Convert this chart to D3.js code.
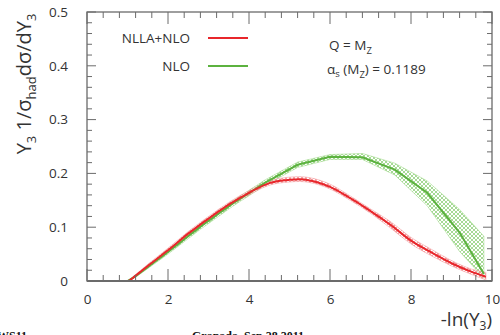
<!DOCTYPE html>
<html>
<head>
<meta charset="utf-8">
<script src="https://cdn.jsdelivr.net/npm/d3@7"></script>
<style>
  html, body { margin: 0; padding: 0; background: #fff; overflow: hidden; }
  svg { display: block; }
</style>
</head>
<body>
<svg id="chart" width="500" height="335"></svg>
<script>
// NLLA+NLO prediction (smooth curve) with its uncertainty band
const nllaX    = [0, 1.0, 1.2, 1.5, 2.0, 2.5, 3.0, 3.5, 4.0, 4.5, 5.0, 5.25, 5.5, 6.0, 6.5, 7.0, 7.5, 8.0, 8.5, 9.0, 9.5, 9.85];
const nllaY    = [0, 0, 0.010, 0.028, 0.057, 0.088, 0.116, 0.142, 0.164, 0.182, 0.188, 0.189, 0.187, 0.175, 0.154, 0.130, 0.104, 0.075, 0.053, 0.033, 0.017, 0.008];
const nllaLow  = [0, 0, 0.008, 0.025, 0.053, 0.084, 0.112, 0.138, 0.160, 0.178, 0.184, 0.185, 0.183, 0.171, 0.150, 0.126, 0.098, 0.069, 0.047, 0.028, 0.012, 0.002];
const nllaHigh = [0, 0, 0.012, 0.031, 0.061, 0.092, 0.120, 0.146, 0.168, 0.186, 0.193, 0.194, 0.192, 0.180, 0.158, 0.134, 0.110, 0.081, 0.059, 0.038, 0.022, 0.016];

// NLO prediction (bin-by-bin, linear segments) with its uncertainty band
const nloX    = [0, 1.0, 1.2, 2.0, 2.8, 3.6, 4.4, 5.2, 6.0, 6.8, 7.6, 8.4, 9.2, 9.8];
const nloY    = [0, 0, 0.009, 0.054, 0.101, 0.144, 0.183, 0.216, 0.231, 0.230, 0.207, 0.164, 0.090, 0.013];
const nloLow  = [0, 0, 0.007, 0.050, 0.096, 0.139, 0.178, 0.211, 0.226, 0.226, 0.197, 0.140, 0.055, 0.005];
const nloHigh = [0, 0, 0.011, 0.058, 0.106, 0.149, 0.188, 0.221, 0.235, 0.237, 0.219, 0.186, 0.133, 0.083];

const xTicks = [0, 2, 4, 6, 8, 10];
const yTicks = [0, 0.1, 0.2, 0.3, 0.4, 0.5];
const yTickLabels = ["0", "0.1", "0.2", "0.3", "0.4", "0.5"];
const legendLabels = ["NLLA+NLO", "NLO"];

const RED = "#e8262b", GREEN = "#5cb23f";
const FONT = "'Open Sans', 'Noto Sans', sans-serif";
const AXIS = "#6b6b6b";

const svg = d3.select("#chart");
const L = 87, R = 492, T = 12, B = 281;
const x = d3.scaleLinear().domain([0, 10]).range([L, R]);
const y = d3.scaleLinear().domain([0, 0.5]).range([B, T]);

// cross-hatch fills for the bands
const defs = svg.append("defs");
function hatch(id, color) {
  const p = defs.append("pattern").attr("id", id).attr("patternUnits", "userSpaceOnUse")
    .attr("width", 4).attr("height", 4);
  p.append("path").attr("d", "M-1,1 L1,-1 M0,4 L4,0 M3,5 L5,3").attr("stroke", color).attr("stroke-width", 0.8);
  p.append("path").attr("d", "M-1,3 L1,5 M0,0 L4,4 M3,-1 L5,1").attr("stroke", color).attr("stroke-width", 0.8);
}
hatch("hatchGreen", "#8fd07a");
hatch("hatchRed", "#f08a8c");

const nlo = nloX.map((v, i) => ({x: v, y: nloY[i], lo: nloLow[i], hi: nloHigh[i]}));
const nlla = nllaX.map((v, i) => ({x: v, y: nllaY[i], lo: nllaLow[i], hi: nllaHigh[i]}));

// bands
svg.append("path").datum(nlo)
  .attr("d", d3.area().x(d => x(d.x)).y0(d => y(d.lo)).y1(d => y(d.hi)))
  .attr("fill", "url(#hatchGreen)").attr("stroke", "#a8dc94").attr("stroke-width", 0.6);
svg.append("path").datum(nlla)
  .attr("d", d3.area().curve(d3.curveMonotoneX).x(d => x(d.x)).y0(d => y(d.lo)).y1(d => y(d.hi)))
  .attr("fill", "url(#hatchRed)").attr("stroke", "#f3a0a2").attr("stroke-width", 0.6);

// central lines
svg.append("path").datum(nlo)
  .attr("d", d3.line().x(d => x(d.x)).y(d => y(d.y)))
  .attr("fill", "none").attr("stroke", GREEN).attr("stroke-width", 2);
svg.append("path").datum(nlla)
  .attr("d", d3.line().curve(d3.curveMonotoneX).x(d => x(d.x)).y(d => y(d.y)))
  .attr("fill", "none").attr("stroke", RED).attr("stroke-width", 2);

// frame with inward ticks on all four sides
const frame = svg.append("g");
const xMinor = d3.range(0, 10.001, 0.4);
const yMinor = d3.range(0, 0.5001, 0.02);
function isMajor(v, step) { return Math.abs(v / step - Math.round(v / step)) < 1e-6; }

xMinor.forEach(v => {
  const major = isMajor(v, 2);
  frame.append("line").attr("x1", x(v)).attr("x2", x(v)).attr("y1", B).attr("y2", B - (major ? 12 : 6))
    .attr("stroke", AXIS).attr("stroke-width", 1);
  frame.append("line").attr("x1", x(v)).attr("x2", x(v)).attr("y1", T).attr("y2", T + (major ? 12 : 6))
    .attr("stroke", AXIS).attr("stroke-width", 1);
});
yMinor.forEach(v => {
  const major = isMajor(v, 0.1);
  frame.append("line").attr("x1", L).attr("x2", L + (major ? 9 : 5)).attr("y1", y(v)).attr("y2", y(v))
    .attr("stroke", AXIS).attr("stroke-width", 1);
  frame.append("line").attr("x1", R).attr("x2", R - (major ? 9 : 5)).attr("y1", y(v)).attr("y2", y(v))
    .attr("stroke", AXIS).attr("stroke-width", 1);
});
frame.append("rect").attr("x", L).attr("y", T).attr("width", R - L).attr("height", B - T)
  .attr("fill", "none").attr("stroke", AXIS).attr("stroke-width", 1.3);
frame.append("line").attr("x1", L).attr("x2", R).attr("y1", B).attr("y2", B)
  .attr("stroke", AXIS).attr("stroke-width", 2);

// tick labels via d3 axes (lines hidden, labels only)
const xAxis = svg.append("g").attr("transform", `translate(0,${B})`)
  .call(d3.axisBottom(x).tickValues(xTicks).tickFormat(d3.format("d")).tickSize(0).tickPadding(13));
const yAxis = svg.append("g").attr("transform", `translate(${L},0)`)
  .call(d3.axisLeft(y).tickValues(yTicks).tickFormat((d, i) => yTickLabels[i]).tickSize(0).tickPadding(19));
[xAxis, yAxis].forEach(g => {
  g.select(".domain").remove();
  g.selectAll("text").attr("font-family", FONT).attr("font-size", 13.5).attr("fill", "#333");
});

// axis titles
const yt = svg.append("text").attr("transform", "translate(31,84) rotate(-90)")
  .attr("text-anchor", "middle").attr("font-family", FONT).attr("font-size", 20).attr("fill", "#333");
yt.append("tspan").text("Y");
yt.append("tspan").attr("font-size", 13).attr("dy", 5).text("3");
yt.append("tspan").attr("dy", -5).text(" 1/σ");
yt.append("tspan").attr("font-size", 13).attr("dy", 5).text("had");
yt.append("tspan").attr("dy", -5).text("dσ/dY");
yt.append("tspan").attr("font-size", 13).attr("dy", 5).text("3");

const xt = svg.append("text").attr("x", R).attr("y", 326).attr("text-anchor", "end")
  .attr("font-family", FONT).attr("font-size", 19).attr("fill", "#333");
xt.append("tspan").text("-ln(Y");
xt.append("tspan").attr("font-size", 12).attr("dy", 4).text("3");
xt.append("tspan").attr("dy", -4).text(")");

// legend
const legendColors = [RED, GREEN];
legendLabels.forEach((lab, i) => {
  const ly = 38 + i * 28;
  svg.append("text").attr("x", 190).attr("y", ly + 5).attr("text-anchor", "end")
    .attr("font-family", FONT).attr("font-size", 13.5).attr("fill", "#333").text(lab);
  svg.append("line").attr("x1", 208).attr("x2", 248).attr("y1", ly).attr("y2", ly)
    .attr("stroke", legendColors[i]).attr("stroke-width", 2);
});

// parameter annotations
const q = svg.append("text").attr("x", 329).attr("y", 50).attr("font-family", FONT)
  .attr("font-size", 13.5).attr("fill", "#333");
q.append("tspan").text("Q = M");
q.append("tspan").attr("font-size", 9.5).attr("dy", 4).text("Z");
const a = svg.append("text").attr("x", 327).attr("y", 74).attr("font-family", FONT)
  .attr("font-size", 13.5).attr("fill", "#333");
a.append("tspan").text("α");
a.append("tspan").attr("font-size", 9.5).attr("dy", 3).text("s");
a.append("tspan").attr("dy", -3).text(" (M");
a.append("tspan").attr("font-size", 9.5).attr("dy", 4).text("Z");
a.append("tspan").attr("dy", -4).text(") = 0.1189");

// footer
svg.append("text").attr("x", -3).attr("y", 340).attr("font-family", "'Liberation Serif', serif")
  .attr("font-weight", "bold").attr("font-size", 12).attr("fill", "#111").text("WS11");
svg.append("text").attr("x", 192).attr("y", 340).attr("font-family", "'Liberation Serif', serif")
  .attr("font-weight", "bold").attr("font-size", 12).attr("fill", "#111").text("Granada, Sep 28 2011");
</script>
</body>
</html>
